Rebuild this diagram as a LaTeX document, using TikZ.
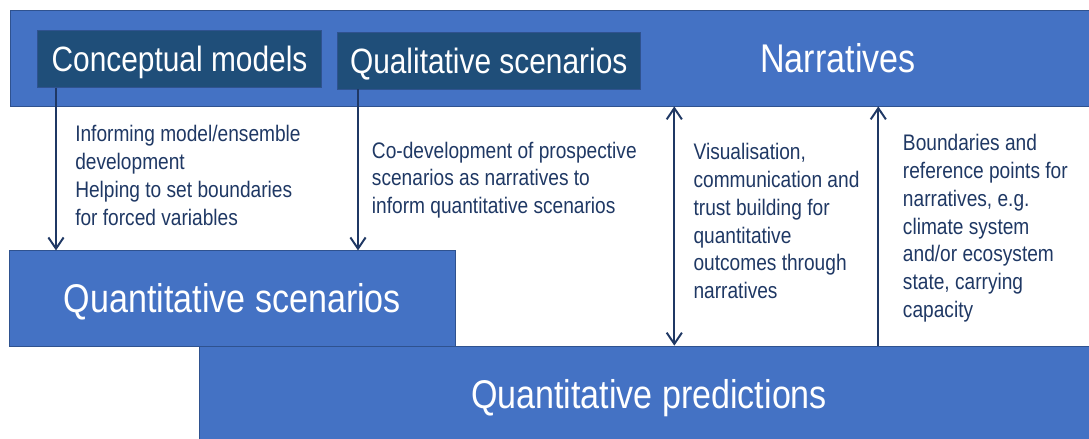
\documentclass[tikz,border=0pt]{standalone}
\usepackage{fontspec}
\setmainfont{Liberation Sans}[FakeStretch=0.85]
\usetikzlibrary{arrows.meta}
\definecolor{bandblue}{HTML}{4472C4}
\definecolor{darkbox}{HTML}{1F4E79}
\definecolor{edgeblue}{HTML}{2F528F}
\definecolor{navy}{HTML}{1F3864}

\begin{document}
\begin{tikzpicture}[x=0.025cm, y=-0.025cm,
    >={Straight Barb[length=2.8mm,width=3.8mm]},
    blok/.style={fill=bandblue, draw=edgeblue, line width=0.5pt, inner sep=0pt},
    darkblok/.style={fill=darkbox, draw=edgeblue, line width=0.5pt, inner sep=0pt, text=white, font=\fontsize{25}{30}\selectfont, text height=17.9pt, text depth=0pt},
    bigtxt/.style={text=white, font=\fontsize{28.5}{34}\selectfont, text height=20.4pt, text depth=0pt},
    note/.style={anchor=north west, inner sep=0pt, align=left, text=navy, font=\fontsize{16}{19.8}\selectfont},
    link/.style={navy, line width=1.4pt}]
            \useasboundingbox (0,0) rectangle (1089,439);
            \node[blok, minimum width=27.225cm, minimum height=2.39cm] (band) at (554.5,58.25) {};
            \node[bigtxt] (nar) at (838,58.4) {Narratives};
            \node[darkblok, minimum width=7.11cm, minimum height=1.43cm] (cm) at (179.5,58.7) {Conceptual models};
            \node[darkblok, minimum width=7.57cm, minimum height=1.425cm] (ql) at (488.7,60.5) {Qualitative scenarios};
            \node[blok, bigtxt, minimum width=22.5cm, minimum height=2.425cm] (qp) at (649,394.5) {Quantitative predictions};
            \node[blok, bigtxt, minimum width=11.16cm, minimum height=2.38cm] (qs) at (232.5,298.4) {Quantitative scenarios};
            \coordinate (a1) at (56,0);
            \coordinate (a2) at (358,0);
            \coordinate (a3) at (674.3,0);
            \coordinate (a4) at (878.3,0);
            \draw[link, ->] (cm.south -| a1) -- (qs.north -| a1);
            \draw[link, ->] (ql.south -| a2) -- (qs.north -| a2);
            \draw[link, <->] (band.south -| a3) -- (qp.north -| a3);
            \draw[link, ->] (qp.north -| a4) -- (band.south -| a4);
            \node[note] (t1) at (75,125) {Informing model/ensemble\\development\\Helping to set boundaries\\for forced variables};
            \node[note] (t2) at (371.7,141.5) {Co-development of prospective\\scenarios as narratives to\\inform quantitative scenarios};
            \node[note] (t3) at (693.3,143) {Visualisation,\\communication and\\trust building for\\quantitative\\outcomes through\\narratives};
            \node[note] (t4) at (902.7,134) {Boundaries and\\reference points for\\narratives, e.g.\\climate system\\and/or ecosystem\\state, carrying\\capacity};
        \end{tikzpicture}
\end{document}
